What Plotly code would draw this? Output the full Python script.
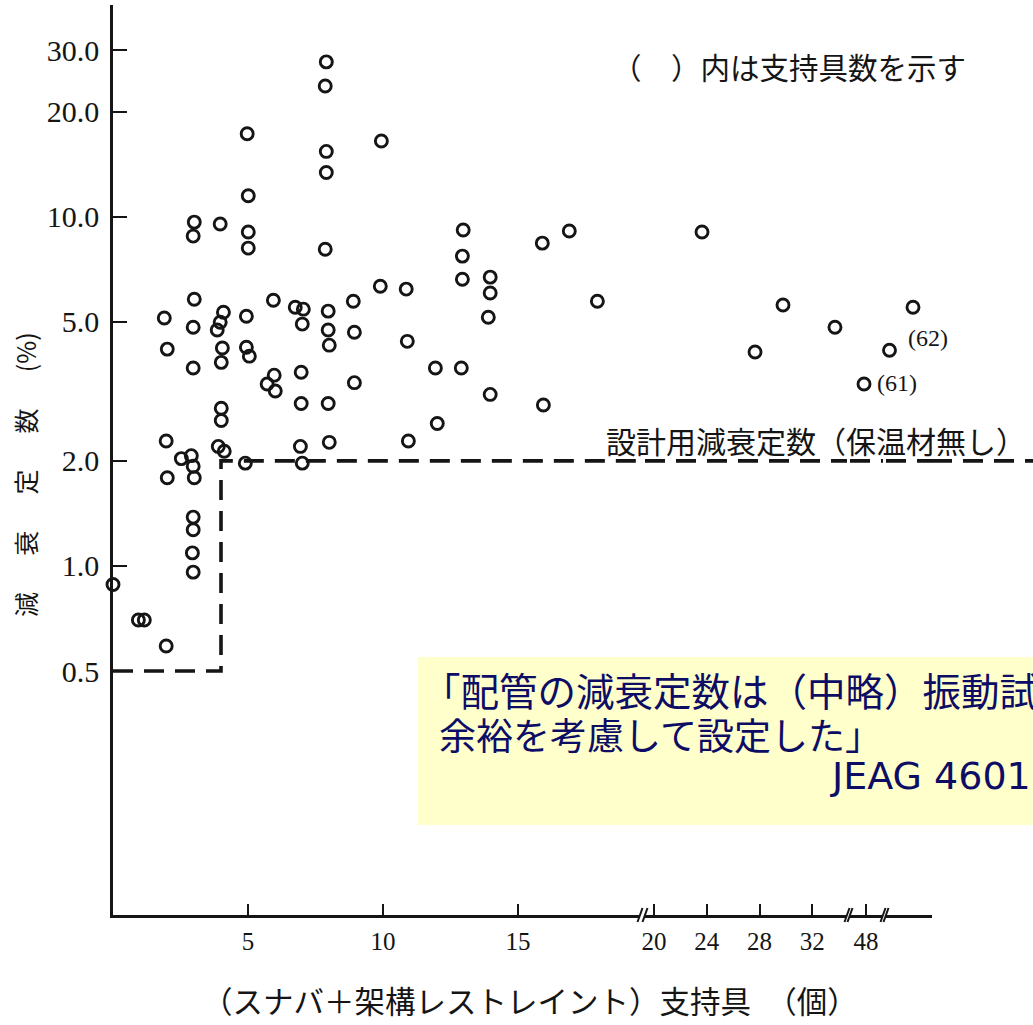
import plotly.graph_objects as go

# ---------------- data ----------------
support_count = [0.0, 0.94, 1.16, 1.97, 1.90, 2.01, 1.97, 2.01, 2.53, 2.90,
                 2.97, 3.01, 2.97, 2.97, 2.94, 2.97, 3.01, 2.97, 3.01, 2.97,
                 2.97, 3.97, 4.09, 3.97, 3.86, 4.05, 4.01, 4.01, 4.01, 3.90,
                 4.12, 4.97, 5.01, 5.01, 5.01, 4.94, 4.94, 5.05, 4.90, 5.94,
                 5.71, 5.97, 6.01, 6.75, 7.05, 7.01, 6.97, 6.97, 6.94, 7.01,
                 7.90, 7.86, 7.90, 7.90, 7.86, 7.97, 7.97, 8.01, 7.97, 8.01,
                 8.90, 8.94, 8.94, 9.94, 9.90, 10.86, 10.90, 10.94, 11.94, 12.01,
                 12.97, 12.94, 12.94, 12.90, 13.97, 13.97, 13.90, 13.97, 15.90, 15.94,
                 16.90, 17.94, 23.64, 27.66, 29.78, 33.72, 47.85, 61, 62]
damping_pct = [0.885, 0.70, 0.70, 0.59, 5.13, 4.18, 2.28, 1.79, 2.03, 2.07,
               1.93, 1.79, 1.38, 1.27, 1.09, 0.96, 9.66, 8.81, 5.81, 4.83,
               3.69, 9.54, 5.33, 4.99, 4.74, 4.21, 3.83, 2.83, 2.61, 2.20,
               2.13, 17.3, 11.5, 9.05, 8.14, 5.19, 4.23, 3.99, 1.97, 5.77,
               3.32, 3.52, 3.17, 5.51, 5.44, 4.93, 3.59, 2.92, 2.20, 1.97,
               27.8, 23.7, 15.4, 13.4, 8.08, 5.37, 4.74, 4.29, 2.92, 2.26,
               5.73, 4.67, 3.35, 16.5, 6.33, 6.21, 4.40, 2.28, 3.69, 2.56,
               9.17, 7.72, 6.63, 3.69, 6.72, 6.05, 5.16, 3.10, 8.41, 2.89,
               9.11, 5.73, 9.05, 4.10, 5.59, 4.83, 3.32, 4.15, 5.51]
assert len(support_count) == len(damping_pct)

# design damping (step): 0.5 % up to 4 supports, 2.0 % beyond
design_x = [0, 4, 4]
design_y = [0.5, 0.5, 2.0]
design_level = 2.0

y_tickvals = [0.5, 1, 2, 5, 10, 20, 30]
y_ticktext = ["0.5", "1.0", "2.0", "5.0", "10.0", "20.0", "30.0"]
seg1_ticks = [5, 10, 15]
seg2_ticks = [20, 24, 28, 32]
seg3_ticks = [48]
point_notes = ["(61)", "(62)"]

# ---------------- geometry ----------------
W, H = 1033, 1025
L, T, B = 113, 5, 110
PW, PH = W - L, H - T - B
AXIS_Y = H - B


def fx(px):
    return (px - L) / PW


def fy(py):
    return (AXIS_Y - py) / PH


segments = [
    dict(px0=113, px1=640, lo=0.0, hi=(640 - 113) / 27.0, ticks=seg1_ticks),
    dict(px0=645, px1=847, lo=20 - 9 / 13.19, hi=20 + 193 / 13.19, ticks=seg2_ticks),
    dict(px0=850, px1=883, lo=48 - 16 / 13.19, hi=48 + 17 / 13.19, ticks=seg3_ticks),
    dict(px0=886, px1=932, lo=61 - 3.5 / 23.5, hi=61 + 42.5 / 23.5, ticks=[]),
]

INK = "#151515"
SERIF = "Liberation Serif, Times New Roman, serif"
CJK = "Noto Sans CJK JP, sans-serif"
DASH = "20px,11px"

fig = go.Figure()
layout_axes = {}

for i, s in enumerate(segments):
    xa = "x" if i == 0 else f"x{i + 1}"
    key = "xaxis" if i == 0 else f"xaxis{i + 1}"
    xs = [x for x in support_count if s["lo"] <= x <= s["hi"]]
    ys = [y for x, y in zip(support_count, damping_pct) if s["lo"] <= x <= s["hi"]]
    # design line
    if i == 0:
        lx = design_x + [s["hi"]]
        ly = design_y + [design_level]
    else:
        lx = [s["lo"], s["hi"]]
        ly = [design_level, design_level]
    fig.add_trace(go.Scatter(x=lx, y=ly, xaxis=xa, yaxis="y", mode="lines",
                             line=dict(color=INK, width=3.6, dash=DASH),
                             hoverinfo="skip", cliponaxis=False))
    fig.add_trace(go.Scatter(x=xs, y=ys, xaxis=xa, yaxis="y", mode="markers",
                             marker=dict(symbol="circle-open", size=12, color=INK,
                                         line=dict(width=2.9, color=INK)),
                             cliponaxis=False))
    layout_axes[key] = dict(
        domain=[fx(s["px0"]), fx(s["px1"])], range=[s["lo"], s["hi"]], anchor="y",
        showline=True, linecolor=INK, linewidth=2.5, showgrid=False, zeroline=False,
        ticks="inside" if s["ticks"] else "", tickvals=s["ticks"],
        ticktext=[str(t) for t in s["ticks"]], ticklen=11, tickwidth=2, tickcolor=INK,
        showticklabels=bool(s["ticks"]), ticklabelstandoff=2,
        tickfont=dict(family=SERIF, size=25, color=INK),
    )

# extension of the design line beyond the axis end
fig.add_trace(go.Scatter(x=[0, 1], y=[design_level, design_level], xaxis="x5", yaxis="y",
                         mode="lines", line=dict(color=INK, width=3.6, dash=DASH),
                         hoverinfo="skip", cliponaxis=False))
layout_axes["xaxis5"] = dict(domain=[fx(932), 1.0], range=[0, 1], anchor="y", visible=False)

layout_axes["yaxis"] = dict(
    type="log", range=[-1.0, 1.607], domain=[0, 1], anchor="x",
    showline=True, linecolor=INK, linewidth=2.5, showgrid=False, zeroline=False,
    ticks="inside", ticklen=14, tickwidth=2, tickcolor=INK,
    tickvals=y_tickvals, ticktext=y_ticktext, ticklabelstandoff=5,
    tickfont=dict(family=SERIF, size=30, color=INK),
)

# axis break marks
shapes = []
for px in [640, 645, 847, 850, 883, 886]:
    shapes.append(dict(type="line", xref="paper", yref="paper",
                       x0=fx(px - 2.5), y0=fy(AXIS_Y + 7), x1=fx(px + 2.5), y1=fy(AXIS_Y - 7),
                       line=dict(color=INK, width=2)))
# yellow quotation box
shapes.append(dict(type="rect", xref="paper", yref="paper", layer="above",
                   x0=fx(418), x1=fx(1060), y0=fy(825), y1=fy(657),
                   fillcolor="#FFFFCC", line=dict(width=0)))


def ann(text, px, py, size, family=CJK, color=INK, xanchor="left", angle=0):
    return dict(text=text, x=fx(px), y=fy(py), xref="paper", yref="paper",
                xanchor=xanchor, yanchor="middle", showarrow=False, textangle=angle,
                font=dict(family=family, size=size, color=color))


NAVY = "#0d0d66"
GAP = "　\u00a0\u00a0"
annotations = [
    ann("（　）内は支持具数を示す", 610, 66, 29.5),
    ann("設計用減衰定数（保温材無し）", 604, 440, 30),
    ann(point_notes[0], 897, 383, 24, family=SERIF, xanchor="center"),
    ann(point_notes[1], 928, 338, 24, family=SERIF, xanchor="center"),
    ann("（スナバ＋架構レストレイント）支持具　（個）", 530, 1000, 30.5, xanchor="center"),
    ann(GAP.join(["減", "衰", "定", "数", "(%)"]), 25, 475, 25, xanchor="center", angle=-90),
    ann("「配管の減衰定数は（中略）振動試験結果に", 420, 689, 38.5, color=NAVY),
    ann("余裕を考慮して設定した」", 437, 734, 37, color=NAVY),
    ann("JEAG 4601・補-1984", 828, 776, 38, family="DejaVu Sans, Verdana, sans-serif", color=NAVY),
]

fig.update_layout(
    width=W, height=H, margin=dict(l=L, r=0, t=T, b=B),
    paper_bgcolor="white", plot_bgcolor="white", showlegend=False,
    shapes=shapes, annotations=annotations, **layout_axes,
)

fig.write_html("out.html", include_plotlyjs=True, config={"displayModeBar": False},
               post_script="document.body.style.margin='0';")
